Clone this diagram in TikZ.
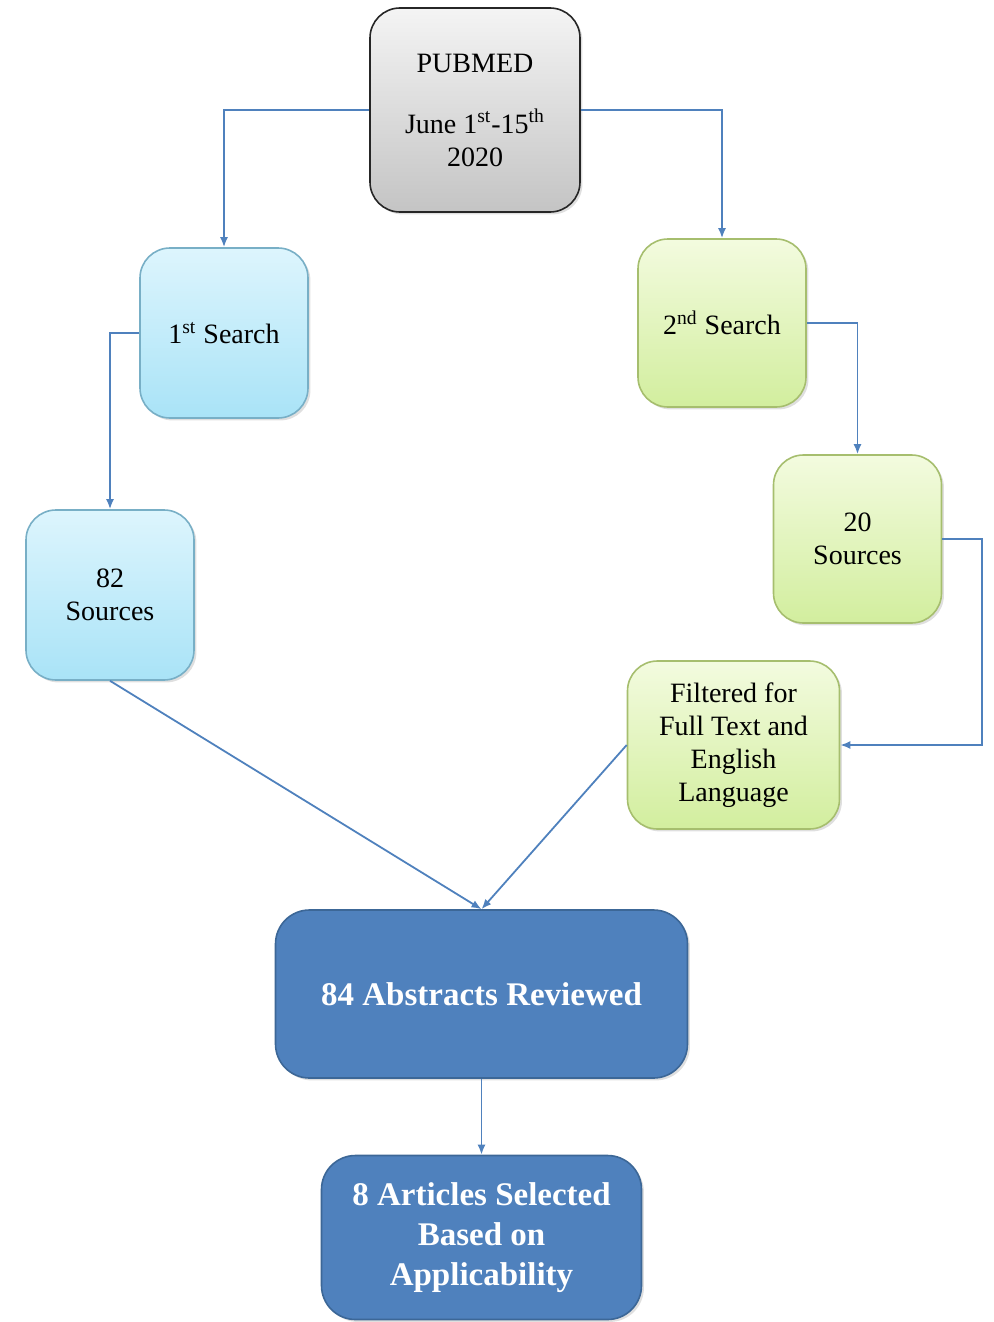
\documentclass[tikz,border=0pt]{standalone}
\usepackage{fontspec}
\setmainfont{Liberation Serif}
\usepackage{tikz}
\usetikzlibrary{arrows.meta,shadows}

\definecolor{linkblue}{HTML}{4F81BD}
\definecolor{darkblue}{HTML}{4F81BD}
\definecolor{darkedge}{HTML}{3C6797}
\definecolor{skytop}{HTML}{DDF5FD}
\definecolor{skybot}{HTML}{A9E3F7}
\definecolor{skyedge}{HTML}{78AFC6}
\definecolor{limetop}{HTML}{F3FBDF}
\definecolor{limebot}{HTML}{D2EE9E}
\definecolor{limeedge}{HTML}{A6BE6E}
\definecolor{greytop}{HTML}{F4F4F4}
\definecolor{greybot}{HTML}{C4C4C4}

\tikzset{
  box/.style={rounded corners=15pt, align=center, font=\fontsize{14}{16.5}\selectfont,
    line width=0.8pt, drop shadow={opacity=0.25, shadow xshift=1.2pt, shadow yshift=-1.2pt}},
  greybox/.style={box, draw=black!85, top color=greytop, bottom color=greybot,
    minimum width=105pt, minimum height=102pt},
  skybox/.style={box, draw=skyedge, top color=skytop, bottom color=skybot,
    minimum width=84pt, minimum height=85pt},
  limebox/.style={box, draw=limeedge, top color=limetop, bottom color=limebot,
    minimum width=84pt, minimum height=84pt},
  finalbox/.style={box, rounded corners=17pt, draw=darkedge, fill=darkblue, text=white,
    font=\fontsize{16.5}{20}\selectfont\bfseries},
  link/.style={draw=linkblue, line width=0.9pt, -{Latex[length=5pt,width=4pt]}}
}

\begin{document}
\begin{tikzpicture}[x=0.5pt, y=-0.5pt]
  \useasboundingbox (0,0) rectangle (993,1322);

  % Define nodes
  \node[greybox]                          (pubmed) at (475,110)    {PUBMED\\[14pt] June 1\textsuperscript{st}-15\textsuperscript{th}\\ 2020};
  \node[skybox]                           (srcha)  at (224,333)    {1\textsuperscript{st} Search};
  \node[limebox]                          (srchb)  at (722,323)    {2\textsuperscript{nd} Search};
  \node[skybox]                           (srca)   at (110,595)    {82\\ Sources};
  \node[limebox]                          (srcb)   at (857.5,539)  {20\\ Sources};
  \node[limebox, minimum width=106pt]     (filt)   at (733.5,745)  {Filtered for\\ Full Text and\\ English\\ Language};
  \node[finalbox, minimum width=206pt, minimum height=84pt]  (abst) at (481.5,994)  {84 Abstracts Reviewed};
  \node[finalbox, minimum width=160pt, minimum height=82pt]  (arts) at (481.5,1237.5) {8 Articles Selected\\ Based on\\ Applicability};

  % Connectors
  \draw[link] (pubmed.west) -| (srcha.north);
  \draw[link] (pubmed.east) -| (srchb.north);
  \draw[link] (srcha.west) -| (srca.north);
  \draw[link] (srchb.east) -| (srcb.north);
  \draw[link] (srcb.east) -- ++(40,0) |- (filt.east);
  \draw[link] (srca.south) -- (abst.north);
  \draw[link] (filt.west) -- (abst.north);
  \draw[link] (abst.south) -- (arts.north);

\end{tikzpicture}
\end{document}
